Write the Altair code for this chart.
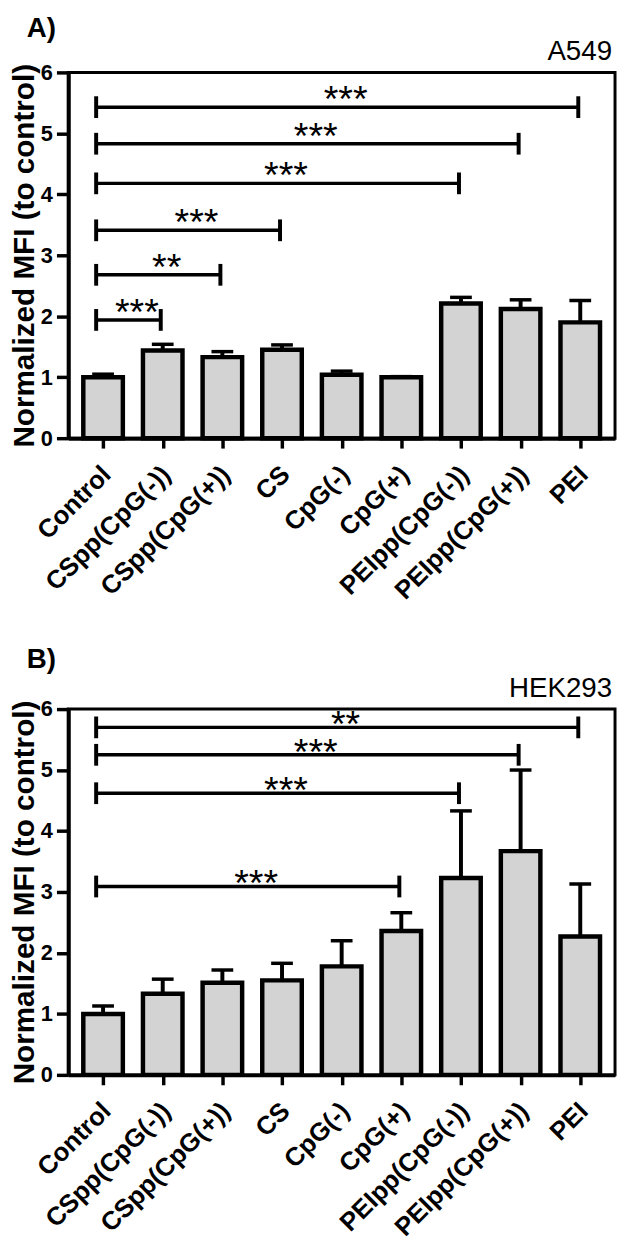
import json
import altair as alt
import pandas as pd

# ---------------- data ----------------
categories = ["Control", "CSpp(CpG(-))", "CSpp(CpG(+))", "CS", "CpG(-)",
              "CpG(+)", "PEIpp(CpG(-))", "PEIpp(CpG(+))", "PEI"]
cat_index = list(range(len(categories)))

a549_mean = [1.00, 1.44, 1.33, 1.45, 1.04, 1.00, 2.21, 2.12, 1.90]
a549_upper = [1.05, 1.54, 1.42, 1.53, 1.10, 1.01, 2.31, 2.27, 2.26]
a549_sig_start = [0, 0, 0, 0, 0, 0]
a549_sig_end = [1, 2, 3, 6, 7, 8]
a549_sig_y = [1.94, 2.68, 3.41, 4.18, 4.83, 5.43]
a549_sig_label = ["***", "**", "***", "***", "***", "***"]

hek_mean = [1.00, 1.33, 1.51, 1.55, 1.78, 2.36, 3.23, 3.67, 2.27]
hek_upper = [1.13, 1.57, 1.72, 1.83, 2.20, 2.66, 4.33, 5.00, 3.13]
hek_sig_start = [0, 0, 0, 0]
hek_sig_end = [5, 6, 7, 8]
hek_sig_y = [3.09, 4.62, 5.25, 5.70]
hek_sig_label = ["***", "***", "***", "**"]

y_ticks = [0, 1, 2, 3, 4, 5, 6]
y_title = "Normalized MFI (to control)"

FONT = "Liberation Sans"
W, H = 553, 370

label_expr = json.dumps(categories) + "[datum.value]"

xs = alt.Scale(domain=[-0.5, len(categories) - 0.5], nice=False, zero=False)
ys = alt.Scale(domain=[0, 6], nice=False, zero=True)

xaxis = alt.Axis(values=cat_index, labelExpr=label_expr, title=None,
                 labelAngle=-45, labelFont=FONT, labelFontSize=26,
                 labelFontWeight="bold", labelColor="black",
                 labelPadding=13, labelOffset=-6, labelFlush=False,
                 labelLimit=0, labelOverlap=False, tickSize=10,
                 tickWidth=3.5, tickColor="black", domainColor="black",
                 domainWidth=4, grid=False)
yaxis = alt.Axis(values=y_ticks, title=y_title, titleFont=FONT,
                 titleFontSize=30, titleFontWeight="bold",
                 titleColor="black", titlePadding=1,
                 labelFont=FONT, labelFontSize=22, labelFontWeight="bold",
                 labelColor="black", labelPadding=4, labelFlush=False,
                 tickSize=12, tickWidth=3.5, tickColor="black",
                 domainColor="black", domainWidth=4, grid=False)


def X(field):
    return alt.X(field, type="quantitative", scale=xs, axis=xaxis)


def Y(field):
    return alt.Y(field, type="quantitative", scale=ys, axis=yaxis)


def panel(mean, upper, s_start, s_end, s_y, s_label, letter, cell,
          letter_y, cell_y, star_dy):
    bars = pd.DataFrame({"idx": cat_index, "cat": categories,
                         "mean": mean, "upper": upper})
    sig = pd.DataFrame({"start": s_start, "end": s_end, "y": s_y,
                        "label": s_label})

    base = alt.Chart(bars)
    b = base.mark_bar(width=40, fill="#d3d3d3", stroke="black",
                      strokeWidth=4.5).encode(x=X("idx"), y=Y("mean"))
    err = base.mark_rule(strokeWidth=4, color="black").encode(
        x=X("idx"), y=Y("mean"), y2="upper:Q")
    cap = base.mark_tick(orient="horizontal", size=22, thickness=3.5,
                         color="black", opacity=1).encode(
        x=X("idx"), y=Y("upper"))

    s = alt.Chart(sig)
    hline = s.mark_rule(strokeWidth=3.5, color="black", xOffset=-7,
                        x2Offset=-2).encode(
        x=X("start"), x2="end:Q", y=Y("y"))
    lt = s.mark_tick(orient="vertical", size=22, thickness=4, color="black",
                     opacity=1, xOffset=-7).encode(x=X("start"), y=Y("y"))
    rt = s.mark_tick(orient="vertical", size=22, thickness=4, color="black",
                     opacity=1, xOffset=-2).encode(x=X("end"), y=Y("y"))
    stars = s.transform_calculate(
        mid="(datum.start + datum.end) / 2"
    ).mark_text(font=FONT, fontSize=38, baseline="alphabetic", dy=star_dy,
                dx=4, color="black").encode(
        x=X("mid"), y=Y("y"), text="label:N")

    letter_t = alt.Chart(pd.DataFrame({"t": [letter]})).mark_text(
        font=FONT, fontSize=28, fontWeight="bold", align="left",
        baseline="alphabetic", color="black").encode(
        x=alt.value(-42), y=alt.value(letter_y), text="t:N")
    cell_t = alt.Chart(pd.DataFrame({"t": [cell]})).mark_text(
        font=FONT, fontSize=28, align="right", baseline="alphabetic",
        color="black").encode(
        x=alt.value(W - 3), y=alt.value(cell_y), text="t:N")

    return alt.layer(b, err, cap, hline, lt, rt, stars, letter_t,
                     cell_t).properties(width=W, height=H)


pA = panel(a549_mean, a549_upper, a549_sig_start, a549_sig_end, a549_sig_y,
           a549_sig_label, "A)", "A549", -36, -13, 5)
pB = panel(hek_mean, hek_upper, hek_sig_start, hek_sig_end, hek_sig_y,
           hek_sig_label, "B)", "HEK293", -42, -12, 10)

chart = alt.vconcat(pA, pB, spacing=38).properties(
    padding={"left": 0, "top": -2, "right": 0, "bottom": 0},
    background="white",
).configure_view(stroke="black", strokeWidth=3)

chart.save("out.html", embed_options={"renderer": "svg", "actions": False})
